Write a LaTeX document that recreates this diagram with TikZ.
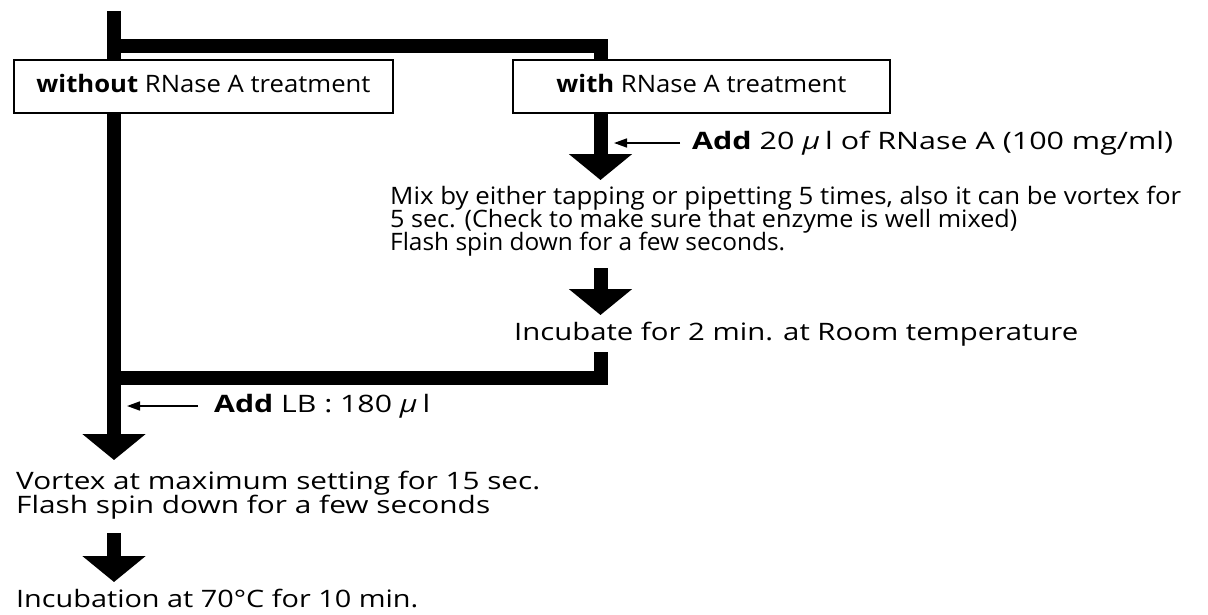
\documentclass[tikz,border=0pt]{standalone}
\usepackage{fontspec}
\usepackage{graphicx}
\setmainfont{Open Sans}
\usetikzlibrary{arrows.meta}
\newcommand{\fw}[2]{\resizebox{#1pt}{\height}{#2}}
\tikzset{
  bar/.style={line width=14pt, line join=miter, line cap=butt},
  fat/.style={bar, -{Triangle[width=62pt,length=26pt]}},
  thin/.style={line width=1.6pt, -{Triangle[width=9pt,length=13pt]}},
  labelbox/.style={draw, line width=1.3pt, fill=white, minimum height=53pt, inner sep=0pt, font=\fontsize{24}{26}\selectfont, text height=17pt, text depth=5pt},
  txt/.style={anchor=west, inner sep=0pt, font=\fontsize{24}{26}\selectfont, text height=17pt, text depth=5pt}
}
\begin{document}
\begin{tikzpicture}[x=1pt,y=-1pt]
\useasboundingbox (0,0) rectangle (1208,614);
% junction coordinates
\coordinate (top) at (114,11);
\coordinate (tl) at (114,45.5);
\coordinate (tr) at (600.5,45.5);
\coordinate (r1) at (600.5,180);
\coordinate (r2s) at (600.5,268);
\coordinate (r2e) at (600.5,315);
\coordinate (br) at (600.5,352);
\coordinate (bc) at (600.5,378);
\coordinate (bl) at (114,378);
\coordinate (m1) at (114,460);
\coordinate (m2s) at (114,533);
\coordinate (m2e) at (114,582);
% bars
\draw[fat] (top) -- (m1);
\draw[fat] ([xshift=-7pt]tl) -- (tr) -- (r1);
\draw[fat] (r2s) -- (r2e);
\draw[bar] (br) -- (bc) -- ([xshift=-7pt]bl);
\draw[fat] (m2s) -- (m2e);
% boxes
\node[labelbox, minimum width=379pt] (without) at (203.5,86.5) {\fw{334}{\textbf{without} RNase A treatment}};
\node[labelbox, minimum width=377pt] (with) at (701.5,86.5) {\fw{290}{\textbf{with} RNase A treatment}};
% right branch texts
\node[txt] (addr) at (692,143) {\fw{481}{\textbf{Add} 20 \textit{μ}\,l of RNase A (100 mg/ml)}};
\coordinate (addrs) at (680,143);
\coordinate (addre) at (614,143);
\draw[thin] (addrs) -- (addre);
\node[txt] (mix1) at (390,198) {\fw{791}{Mix by either tapping or pipetting 5 times, also it can be vortex for}};
\node[txt] (mix2) at (390,221) {\fw{627}{5 sec. (Check to make sure that enzyme is well mixed)}};
\node[txt] (mix3) at (390,244) {\fw{395}{Flash spin down for a few seconds.}};
\node[txt] (inc2) at (514,334) {\fw{564}{Incubate for 2 min. at Room temperature}};
% left branch texts
\node[txt] (addlb) at (214,406) {\fw{216}{\textbf{Add} LB : 180 \textit{μ}\,l}};
\coordinate (lbs) at (198,406);
\coordinate (lbe) at (127,406);
\draw[thin] (lbs) -- (lbe);
\node[txt] (vortex) at (16,483) {\fw{524}{Vortex at maximum setting for 15 sec.}};
\node[txt] (flash) at (16,507) {\fw{474}{Flash spin down for a few seconds}};
\node[txt] (inc70) at (16,601) {\fw{402}{Incubation at 70°C for 10 min.}};
\end{tikzpicture}
\end{document}
